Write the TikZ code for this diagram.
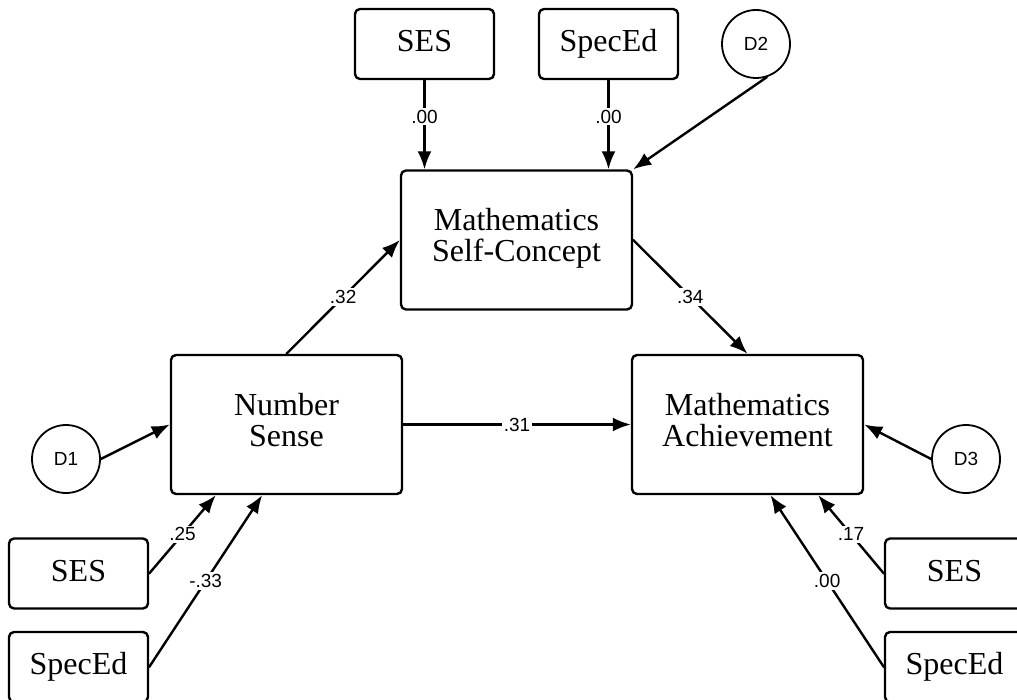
\documentclass[tikz,border=0pt]{standalone}
\usepackage{fontspec}
\setmainfont{Liberation Serif}
\setsansfont{Liberation Sans}
\usetikzlibrary{arrows.meta,positioning}
\tikzset{>={Latex[length=9pt,width=7pt]}}
\begin{document}
\begin{tikzpicture}[x=0.5pt,y=-0.5pt,line cap=round,line join=round,
  var/.style={draw,line width=1.2pt,rounded corners=2.5pt,minimum width=115.5pt,minimum height=69.5pt,align=center,font=\fontsize{16}{15.5}\selectfont},
  cov/.style={draw,line width=1.2pt,rounded corners=2.5pt,minimum width=69.5pt,minimum height=35pt,text height=11pt,text depth=3.5pt,font=\fontsize{16}{18}\selectfont},
  dist/.style={draw,circle,line width=0.9pt,minimum size=34pt,inner sep=0pt,font=\sffamily\fontsize{9.5}{11}\selectfont},
  path/.style={->,line width=1.2pt},
  coef/.style={fill=white,inner sep=1pt,font=\sffamily\fontsize{9.5}{11}\selectfont}]
\useasboundingbox (0,0) rectangle (1017,700);
\clip (0,0) rectangle (1017,700);
% latent-free path model
\node[var] (ns) at (286.5,424.5) {Number\\Sense\\[-10.5pt]};
\node[var] (msc) at (516.5,240) {Mathematics\\Self-Concept\\[-10.5pt]};
\node[var] (ma) at (747.5,424.5) {Mathematics\\Achievement\\[-10.5pt]};
\node[cov] (sesT) at (424.5,44) {SES};
\node[cov] (specT) at (608.5,44) {SpecEd};
\node[cov] (sesL) at (78.5,573.5) {SES};
\node[cov] (specL) at (78.5,667) {SpecEd};
\node[cov] (sesR) at (954.5,573.5) {SES};
\node[cov] (specR) at (954.5,667) {SpecEd};
\node[dist] (d1) at (66,459) {D1};
\node[dist] (d2) at (756,44) {D2};
\node[dist] (d3) at (966,459) {D3};
% paths
\draw[path] (sesT) -- node[coef,pos=0.41] {.00} (msc.north -| sesT);
\draw[path] (specT) -- node[coef,pos=0.41] {.00} (msc.north -| specT);
\draw[path] (d2.-72) -- (msc.north east);
\draw[path] (ns.north) -- node[coef] {.32} (msc.west);
\draw[path] (msc.east) -- node[coef] {.34} (ma.north);
\draw[path] (ns) -- node[coef] {.31} (ma);
\draw[path] (d1.east) -- (ns.west);
\draw[path] (d3.west) -- (ma.east);
\draw[path] (sesL.east) -- node[coef] {.25} (ns.-135);
\draw[path] (specL.east) -- node[coef] {-.33} (ns.-109);
\draw[path] (sesR.west) -- node[coef] {.17} (ma.-45);
\draw[path] (specR.west) -- node[coef] {.00} (ma.-72);
\end{tikzpicture}
\end{document}
